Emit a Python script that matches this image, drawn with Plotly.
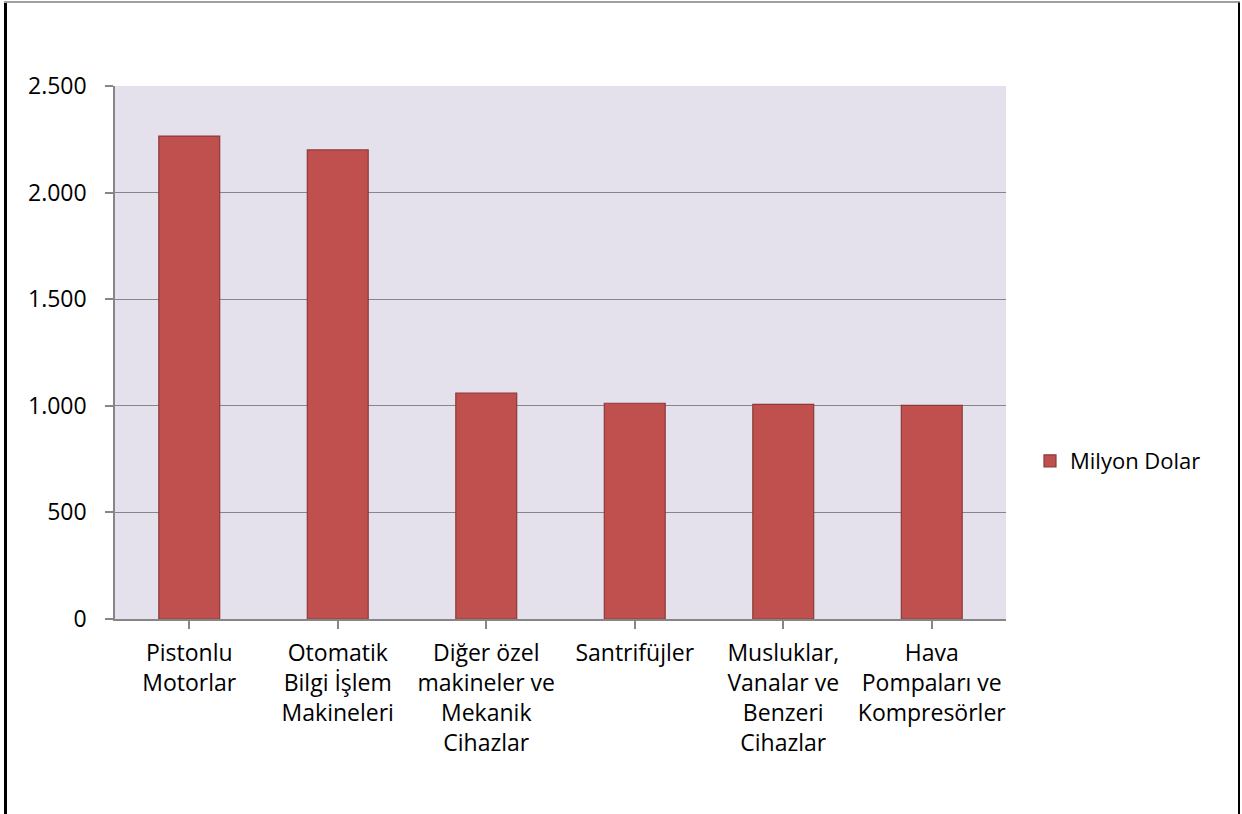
import plotly.graph_objects as go

categories = [
    "Pistonlu<br>Motorlar",
    "Otomatik<br>Bilgi İşlem<br>Makineleri",
    "Diğer özel<br>makineler ve<br>Mekanik<br>Cihazlar",
    "Santrifüjler",
    "Musluklar,<br>Vanalar ve<br>Benzeri<br>Cihazlar",
    "Hava<br>Pompaları ve<br>Kompresörler",
]
values = [2265, 2200, 1060, 1012, 1007, 1002]
series_name = "Milyon Dolar"
y_ticks = [0, 500, 1000, 1500, 2000, 2500]

W, H = 1242, 814
L, R, T, B = 115, 1006, 86, 619

def px_x(x):
    return (x - L) / (R - L)

def px_y(y):
    return (B - y) / (B - T)

FONT = "Open Sans"
GRAY = "#868686"
FS = 23

fig = go.Figure()
fig.add_trace(go.Bar(
    x=list(range(len(categories))),
    y=values,
    name=series_name,
    marker=dict(color="#C0504D", line=dict(color="#8C3A38", width=1.2)),
    showlegend=True,
))

fig.update_layout(
    width=W, height=H,
    margin=dict(l=L, r=W - R, t=T, b=H - B, pad=0),
    paper_bgcolor="white",
    plot_bgcolor="#E4E1EC",
    separators=",.",
    font=dict(family=FONT, size=FS, color="#000000"),
    bargap=0.59,
    showlegend=True,
    legend=dict(x=px_x(1030), y=px_y(461), xanchor="left", yanchor="middle",
                font=dict(family=FONT, size=22, color="#000000"),
                bgcolor="rgba(0,0,0,0)", itemwidth=30),
    xaxis=dict(
        tickmode="array",
        tickvals=list(range(len(categories))),
        ticktext=categories,
        range=[-0.5, len(categories) - 0.5],
        showline=True, linecolor=GRAY, linewidth=1.5,
        ticks="outside", ticklen=8, tickcolor=GRAY, tickwidth=1.5,
        tickson="boundaries",
        showgrid=False, zeroline=False,
        ticklabelstandoff=5,
        tickfont=dict(family=FONT, size=FS, color="#000000"),
    ),
    yaxis=dict(
        range=[0, 2500],
        tickmode="array",
        tickvals=y_ticks,
        tickformat=",d",
        showline=True, linecolor=GRAY, linewidth=1.5,
        ticks="outside", ticklen=8, tickcolor=GRAY, tickwidth=1.5,
        showgrid=True, gridcolor=GRAY, gridwidth=1.2,
        zeroline=False,
        ticklabelstandoff=14,
        tickfont=dict(family=FONT, size=FS, color="#000000"),
    ),
    shapes=[
        dict(type="line", xref="paper", yref="paper",
             x0=px_x(5.5), x1=px_x(5.5), y0=px_y(3), y1=px_y(H + 5),
             line=dict(color="black", width=3)),
        dict(type="line", xref="paper", yref="paper",
             x0=px_x(1239), x1=px_x(1239), y0=px_y(2), y1=px_y(H + 5),
             line=dict(color="black", width=2)),
        dict(type="line", xref="paper", yref="paper",
             x0=px_x(4), x1=px_x(1240), y0=px_y(2), y1=px_y(2),
             line=dict(color="#808080", width=1.5)),
    ],
)

fig.write_html("out.html",
               config={"displayModeBar": False},
               post_script="document.body.style.margin='0';document.body.style.overflow='hidden';")
